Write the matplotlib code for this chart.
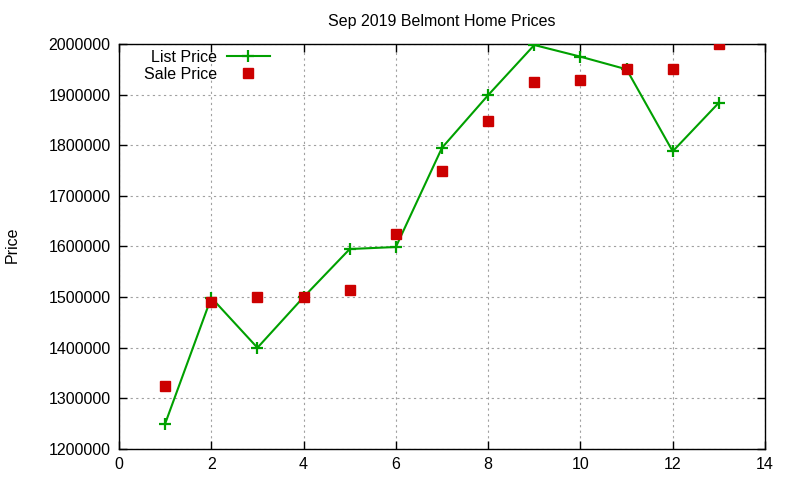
import matplotlib
matplotlib.use("Agg")
import matplotlib.pyplot as plt
from matplotlib.ticker import MultipleLocator

plt.rcParams['font.family'] = ['Liberation Sans', 'DejaVu Sans']

x_vals = [1, 2, 3, 4, 5, 6, 7, 8, 9, 10, 11, 12, 13]
list_price = [1250000, 1499000, 1400000, 1500000, 1595000, 1599000, 1795000,
              1899000, 1998000, 1975000, 1950000, 1788000, 1884000]
sale_price = [1325000, 1490000, 1500000, 1500000, 1515000, 1625000, 1750000,
              1848000, 1925000, 1929000, 1950000, 1950000, 2000000]
title = "Sep 2019 Belmont Home Prices"
ylabel = "Price"

FS = 11.5

fig = plt.figure(figsize=(8, 4.8), dpi=100)
ax = fig.add_axes([119/800, 1 - 449/480, (765-119)/800, (449-44)/480])

ax.plot(x_vals, list_price, color='#00a000', lw=1.5, marker='+', ms=9, mew=1.6,
        label='List Price', zorder=3)
ax.plot(x_vals, sale_price, ls='none', marker='s', ms=7, color='#cc0000',
        mec='#cc0000', label='Sale Price', zorder=4)

ax.set_xlim(0, 14)
ax.set_ylim(1200000, 2000000)
ax.xaxis.set_major_locator(MultipleLocator(2))
ax.yaxis.set_major_locator(MultipleLocator(100000))
ax.ticklabel_format(style='plain', axis='y', useOffset=False)
ax.grid(True, color='#a0a0a0', ls=(0, (2, 3)), lw=0.8)
ax.tick_params(direction='in', length=6, width=1, top=True, right=True,
               labelsize=FS, pad=6, color='black')
for s in ax.spines.values():
    s.set_linewidth(1)

ax.set_title(title, fontsize=FS, pad=13)
fig.text(12/800, 1 - 245/480, ylabel, rotation=90, fontsize=FS,
         ha='center', va='center')

leg = ax.legend(loc='upper left', bbox_to_anchor=(0.024, 1.01), frameon=False,
                markerfirst=False, fontsize=FS, handlelength=2.7,
                handletextpad=0.6, labelspacing=0.15, borderaxespad=0.2)

fig.savefig('out.png', dpi=100)
